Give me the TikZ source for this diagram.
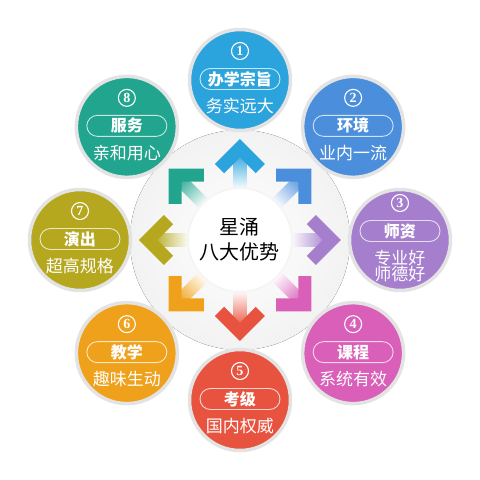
\documentclass[tikz,border=0pt]{standalone}
\usepackage{fontspec}
\setmainfont{Liberation Serif}
\newfontfamily\cjk{Noto Sans CJK SC}
\definecolor{advA}{HTML}{2BA3DC}
\definecolor{advB}{HTML}{4B8FDC}
\definecolor{advC}{HTML}{A57FCD}
\definecolor{advD}{HTML}{D95FB9}
\definecolor{advE}{HTML}{E8533F}
\definecolor{advF}{HTML}{EFA11B}
\definecolor{advG}{HTML}{B5A71E}
\definecolor{advH}{HTML}{21A58E}
\begin{document}
\begin{tikzpicture}[x=1pt,y=1pt,
  adv/.style={circle,minimum size=101,draw=black!11,line width=3.5},
  num/.style={circle,draw=white,line width=1.1,inner sep=0pt,minimum size=17,
    text=white,font=\bfseries\fontsize{14}{14}\selectfont},
  pill/.style={draw=white,draw opacity=.75,line width=.9,rounded corners=10.5,
    minimum width=80,minimum height=21,inner sep=0pt,text=white,
    font=\cjk\bfseries\fontsize{16}{16}\selectfont},
  sub/.style={text=white,align=center,inner sep=0pt,font=\cjk\fontsize{17}{15}\selectfont}]
\useasboundingbox (-240,-240) rectangle (240,240);
\fill[white] (-240,-240) rectangle (240,240);
% grey ring behind the arrows
\fill[inner color=white,outer color=black!5] (0,0) circle (110);
% eight arrows
\foreach \ang/\col in {90/advA,45/advB,0/advC,-45/advD,-90/advE,-135/advF,180/advG,135/advH}{
  \begin{scope}[transform canvas={rotate=\ang}]
    \shade[left color=white,right color=\col] (50,6.5) rectangle (88,-6.5);
    \fill[\col] (101,0) -- (76,25) -- (66.8,15.8) -- (82.6,0) -- (66.8,-15.8)
      -- (76,-25) -- cycle;
  \end{scope}
}
\node[circle,fill=white,draw=black!4,line width=2,minimum size=104,align=center,
  font=\cjk\fontsize{20}{25}\selectfont] (hub) at (0,0) {星涌\\八大优势};
% the eight advantages
\foreach \i/\ang/\col/\head/\body/\dy in {
  1/90/advA/办学宗旨/务实远大/0,
  2/45/advB/环境/业内一流/0,
  3/0/advC/师资/{专业好\\师德好}/8,
  4/-45/advD/课程/系统有效/0,
  5/-90/advE/考级/国内权威/0,
  6/-135/advF/教学/趣味生动/0,
  7/180/advG/演出/超高规格/0,
  8/135/advH/服务/亲和用心/0}{
  \node[adv,fill=\col] (s\i) at (\ang:160) {};
  \node[num] (n\i) at ([yshift=29+\dy]s\i.center) {\i};
  \node[pill] (p\i) at ([yshift=1+\dy]s\i.center) {\head};
  \node[sub] (t\i) at ([yshift=-26]s\i.center) {\body};
}
\end{tikzpicture}
\end{document}
